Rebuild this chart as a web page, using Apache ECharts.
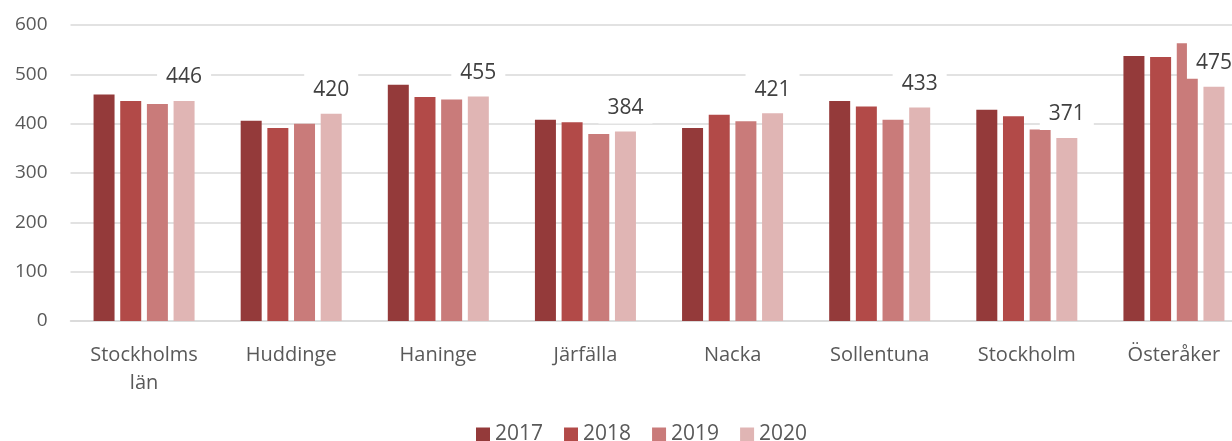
<!DOCTYPE html>
<html>
<head>
<meta charset="utf-8">
<script src="https://cdn.jsdelivr.net/npm/echarts@6/dist/echarts.min.js"></script>
<style>
html,body{margin:0;padding:0;background:#fff;}
#c{width:1232px;height:441px;}
</style>
</head>
<body>
<div id="c"></div>
<script>
const categories = ['Stockholms\nlän', 'Huddinge', 'Haninge', 'Järfälla', 'Nacka', 'Sollentuna', 'Stockholm', 'Österåker'];
const seriesNames = ['2017', '2018', '2019', '2020'];
const v2017 = [459, 406, 479, 408, 391, 446, 428, 537];
const v2018 = [446, 391, 454, 403, 418, 435, 415, 535];
const v2019 = [440, 400, 449, 379, 405, 408, 388, 563];
const v2020 = [446, 420, 455, 384, 421, 433, 371, 475];
const yTicks = [0, 100, 200, 300, 400, 500, 600];

const colors = ['#943a3a', '#b24a48', '#c97b7a', '#e0b5b4'];
const font = 'Open Sans';
const values = [v2017, v2018, v2019, v2020];

const chart = echarts.init(document.getElementById('c'), null, {renderer: 'canvas'});
chart.setOption({
  animation: false,
  color: colors,
  textStyle: {fontFamily: font},
  grid: {left: 70.5, top: 25, height: 296, width: 1177, containLabel: false, outerBoundsMode: 'none'},
  legend: {
    top: 419,
    left: 471,
    itemWidth: 14,
    itemHeight: 14,
    itemGap: 21,
    icon: 'rect',
    textStyle: {fontSize: 21, color: '#595959', fontFamily: font, padding: [0, 0, 0, 0]},
    data: seriesNames
  },
  xAxis: {
    type: 'category',
    data: categories,
    axisLine: {lineStyle: {color: '#d9d9d9', width: 1.5}},
    axisTick: {show: false},
    axisLabel: {fontSize: 20, color: '#595959', margin: 20, lineHeight: 28, fontFamily: font, interval: 0}
  },
  yAxis: {
    type: 'value',
    min: yTicks[0],
    max: yTicks[yTicks.length - 1],
    interval: 100,
    axisLine: {show: false},
    axisTick: {show: false},
    splitLine: {lineStyle: {color: '#d9d9d9', width: 1.5}},
    axisLabel: {fontSize: 19, color: '#595959', margin: 23, fontFamily: font}
  },
  series: seriesNames.map((n, i) => ({
    name: n,
    type: 'bar',
    data: values[i],
    barWidth: 21,
    barGap: '27%',
    itemStyle: {color: colors[i]},
    label: i === 3 ? {
      show: true,
      position: 'top',
      distance: 8,
      fontSize: 21,
      color: '#404040',
      fontFamily: font,
      backgroundColor: '#ffffff',
      padding: [12, 9, 5, 9]
    } : {show: false}
  }))
});
</script>
</body>
</html>
